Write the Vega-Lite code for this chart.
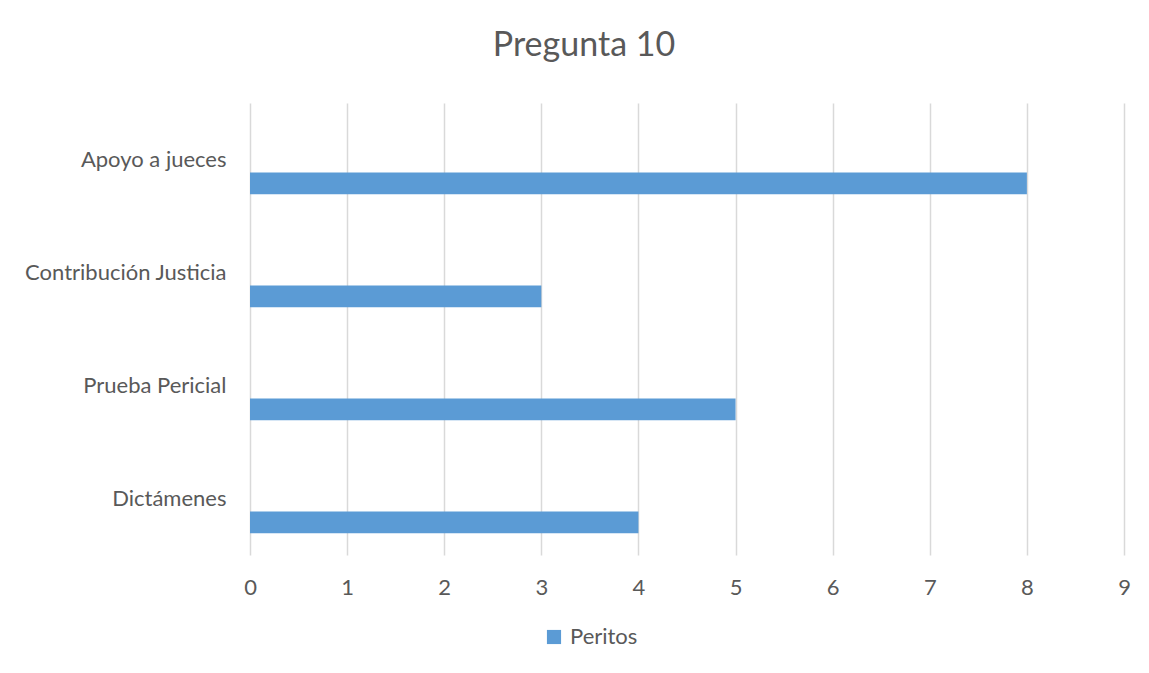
{
  "$schema": "https://vega.github.io/schema/vega-lite/v6.json",
  "width": 874,
  "height": 452,
  "autosize": {"type": "none"},
  "padding": {"left": 250, "top": 103, "right": 25, "bottom": 118},
  "background": "white",
  "config": {
    "view": {"stroke": null},
    "font": "Lato"
  },
  "title": {
    "text": "Pregunta 10",
    "fontSize": 34,
    "fontWeight": "normal",
    "color": "#595959",
    "font": "Lato",
    "anchor": "middle",
    "baseline": "alphabetic",
    "offset": 13,
    "dx": -103
  },
  "data": {
    "values": [
      {"categoria": "Apoyo a jueces", "serie": "Peritos", "valor": 8},
      {"categoria": "Contribución Justicia", "serie": "Peritos", "valor": 3},
      {"categoria": "Prueba Pericial", "serie": "Peritos", "valor": 5},
      {"categoria": "Dictámenes", "serie": "Peritos", "valor": 4}
    ]
  },
  "mark": {"type": "bar", "color": "#5B9BD5"},
  "encoding": {
    "y": {
      "field": "categoria",
      "type": "nominal",
      "sort": null,
      "scale": {"paddingInner": 0, "paddingOuter": 0},
      "axis": {
        "title": null,
        "ticks": false,
        "domain": false,
        "grid": false,
        "labelPadding": 24,
        "labelFontSize": 22,
        "labelLimit": 400,
        "labelColor": "#595959",
        "labelFont": "Lato"
      }
    },
    "yOffset": {
      "field": "serie",
      "type": "nominal",
      "scale": {"domain": ["s1", "s2", "s3", "Peritos", "s5"], "paddingInner": 0, "paddingOuter": 0.1, "align": 1}
    },
    "x": {
      "field": "valor",
      "type": "quantitative",
      "scale": {"domain": [0, 9], "nice": false},
      "axis": {
        "title": null,
        "values": [0, 1, 2, 3, 4, 5, 6, 7, 8, 9],
        "labelOverlap": false,
        "labelFlush": false,
        "ticks": false,
        "domain": false,
        "grid": true,
        "gridColor": "#d9d9d9",
        "gridWidth": 1.5,
        "labelPadding": 22,
        "labelFontSize": 22,
        "labelColor": "#595959",
        "labelFont": "Lato"
      }
    },
    "color": {
      "field": "serie",
      "type": "nominal",
      "scale": {"domain": ["Peritos"], "range": ["#5B9BD5"]},
      "legend": {
        "title": null,
        "orient": "none",
        "legendX": 293,
        "legendY": 523,
        "symbolType": "square",
        "symbolSize": 200,
        "symbolStrokeWidth": 0,
        "labelFontSize": 22,
        "labelColor": "#595959",
        "labelFont": "Lato",
        "labelOffset": 5
      }
    }
  }
}
